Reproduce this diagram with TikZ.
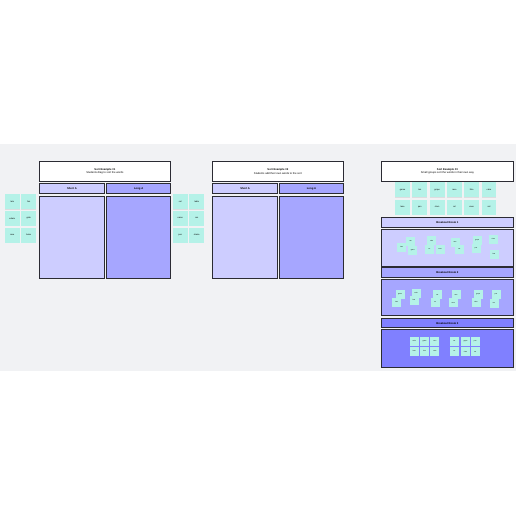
\documentclass[tikz,border=0pt]{standalone}
\usepackage{fontspec}
\setmainfont{Liberation Sans}
\usepackage{xcolor}
\usetikzlibrary{positioning, shadows}

\definecolor{boardbg}{HTML}{F1F2F4}
\definecolor{shortcol}{HTML}{CDCDFF}
\definecolor{longcol}{HTML}{A6A6FF}
\definecolor{roomcol}{HTML}{8080FF}
\definecolor{notecol}{HTML}{B5F2E8}
\definecolor{edgecol}{HTML}{2B2B33}

\begin{document}
\begin{tikzpicture}[
    frame/.style={draw=edgecol, line width=1.1pt, inner sep=0pt, anchor=north west, align=center},
    title/.style={frame, fill=white, minimum height=0.97cm, font=\fontsize{3.8pt}{5pt}\selectfont},
    hdr/.style={frame, font=\fontsize{3.8pt}{4pt}\selectfont\bfseries},
    note/.style={fill=notecol, inner sep=0pt, minimum width=0.74cm, minimum height=0.76cm, font=\fontsize{3pt}{3.2pt}\selectfont, drop shadow={shadow xshift=0pt, shadow yshift=-0.4pt, opacity=0.18}},
    chip/.style={fill=notecol, inner sep=0pt, minimum size=0.45cm, font=\fontsize{2.2pt}{2.4pt}\selectfont, drop shadow={shadow xshift=0pt, shadow yshift=-0.3pt, opacity=0.18}},
]
\useasboundingbox (0,0) rectangle (25.8,-25.8);
\fill[boardbg] (0,-7.2) rectangle (25.8,-18.54);

% Sort Example 1
\node[title, minimum width=6.52cm] (t1) at (1.965,-8.065) {\textbf{Sort Example \#1}\\Students drag to sort the words};
\node[hdr, fill=shortcol, minimum width=3.22cm, minimum height=0.535cm, below=0.065cm of t1.south west, anchor=north west] (sa1) {Short A};
\node[hdr, fill=longcol, minimum width=3.22cm, minimum height=0.535cm, right=0.08cm of sa1.north east, anchor=north west] (la1) {Long A};
\node[hdr, fill=shortcol, minimum width=3.22cm, minimum height=4.135cm, below=0.065cm of sa1.south west, anchor=north west] (cs1) {};
\node[hdr, fill=longcol, minimum width=3.22cm, minimum height=4.135cm, below=0.065cm of la1.south west, anchor=north west] (cl1) {};

% word stack beside example 1
\node[note, anchor=north west] (w1) at (0.235,-9.7) {tale};
\node[note, right=0.07cm of w1] (w2) {fan};
\node[note, below=0.06cm of w1] (w3) {whale};
\node[note, right=0.07cm of w3] (w4) {grab};
\node[note, below=0.06cm of w3] (w5) {race};
\node[note, right=0.07cm of w5] (w6) {bake};

% Sort Example 2
\node[title, minimum width=6.52cm] (t2) at (10.615,-8.065) {\textbf{Sort Example \#2}\\Students add their own words to the sort};
\node[hdr, fill=shortcol, minimum width=3.24cm, minimum height=0.535cm, below=0.065cm of t2.south west, anchor=north west] (sa2) {Short A};
\node[hdr, fill=longcol, minimum width=3.24cm, minimum height=0.535cm, right=0.04cm of sa2.north east, anchor=north west] (la2) {Long A};
\node[hdr, fill=shortcol, minimum width=3.24cm, minimum height=4.135cm, below=0.065cm of sa2.south west, anchor=north west] (cs2) {};
\node[hdr, fill=longcol, minimum width=3.24cm, minimum height=4.135cm, below=0.065cm of la2.south west, anchor=north west] (cl2) {};

% word stack beside example 2
\node[note, anchor=north west] (v1) at (8.635,-9.7) {cat};
\node[note, right=0.07cm of v1] (v2) {table};
\node[note, below=0.06cm of v1] (v3) {name};
\node[note, right=0.07cm of v3] (v4) {ran};
\node[note, below=0.06cm of v3] (v5) {pan};
\node[note, right=0.07cm of v5] (v6) {shake};

% Sort Example 3
\node[title, minimum width=6.57cm] (t3) at (19.065,-8.065) {\textbf{Sort Example \#3}\\Small groups sort the words in their own way};
\node[note, anchor=north west] (u1) at (19.75,-9.1) {game};
\node[note, right=0.11cm of u1] (u2) {tan};
\node[note, right=0.11cm of u2] (u3) {grape};
\node[note, right=0.11cm of u3] (u4) {race};
\node[note, right=0.11cm of u4] (u5) {fate};
\node[note, right=0.11cm of u5] (u6) {cake};
\node[note, below=0.1cm of u1] (u7) {lane};
\node[note, right=0.11cm of u7] (u8) {pan};
\node[note, right=0.11cm of u8] (u9) {clam};
\node[note, right=0.11cm of u9] (u10) {rat};
\node[note, right=0.11cm of u10] (u11) {vase};
\node[note, right=0.11cm of u11] (u12) {sat};

% Breakout rooms
\node[hdr, fill=shortcol, minimum width=6.57cm, minimum height=0.47cm] (br1) at (19.065,-10.865) {Breakout Room 1};
\node[hdr, fill=shortcol, minimum width=6.57cm, minimum height=1.82cm] (r1) at (19.065,-11.465) {};
\node[hdr, fill=longcol, minimum width=6.57cm, minimum height=0.5cm] (br2) at (19.065,-13.365) {Breakout Room 2};
\node[hdr, fill=longcol, minimum width=6.57cm, minimum height=1.8cm] (r2) at (19.065,-13.965) {};
\node[hdr, fill=roomcol, minimum width=6.57cm, minimum height=0.45cm] (br3) at (19.065,-15.915) {Breakout Room 3};
\node[hdr, fill=roomcol, minimum width=6.57cm, minimum height=1.87cm] (r3) at (19.065,-16.465) {};

% room 1 words
\node[chip] (a1) at (20.085,-12.35) {lane};
\node[chip] (a2) at (20.535,-12.05) {tan};
\node[chip] (a3) at (20.635,-12.515) {game};
\node[chip] (a4) at (21.585,-12.035) {cake};
\node[chip] (a5) at (21.465,-12.465) {rat};
\node[chip] (a6) at (22.0,-12.465) {vase};
\node[chip] (a7) at (22.75,-12.1) {race};
\node[chip] (a8) at (22.965,-12.45) {sat};
\node[chip] (a9) at (23.865,-12.035) {grape};
\node[chip] (a10) at (23.8,-12.415) {pan};
\node[chip] (a11) at (24.665,-11.965) {clam};
\node[chip] (a12) at (24.7,-12.7) {fate};

% room 2 words
\node[chip] (b1) at (20.0,-14.735) {game};
\node[chip] (b2) at (19.835,-15.115) {lane};
\node[chip] (b3) at (20.8,-14.665) {cake};
\node[chip] (b4) at (20.7,-15.015) {fate};
\node[chip] (b5) at (21.865,-14.735) {sat};
\node[chip] (b6) at (21.75,-15.115) {rat};
\node[chip] (b7) at (22.8,-14.735) {race};
\node[chip] (b8) at (22.665,-15.135) {vase};
\node[chip] (b9) at (23.915,-14.735) {grape};
\node[chip] (b10) at (23.8,-15.1) {clam};
\node[chip] (b11) at (24.8,-14.735) {pan};
\node[chip] (b12) at (24.7,-15.15) {tan};

% room 3 words
\node[chip] (c1) at (20.715,-17.065) {cake};
\node[chip, right=0.05cm of c1] (c2) {game};
\node[chip, right=0.05cm of c2] (c3) {race};
\node[chip, below=0.04cm of c1] (c4) {lane};
\node[chip, right=0.05cm of c4] (c5) {fate};
\node[chip, right=0.05cm of c5] (c6) {vase};
\node[chip] (c7) at (22.715,-17.05) {sat};
\node[chip, right=0.1cm of c7] (c8) {grape};
\node[chip, right=0.02cm of c8] (c9) {pan};
\node[chip] (c10) at (22.715,-17.55) {rat};
\node[chip, below=0.07cm of c8] (c11) {clam};
\node[chip, right=0.02cm of c11] (c12) {tan};
\end{tikzpicture}
\end{document}
